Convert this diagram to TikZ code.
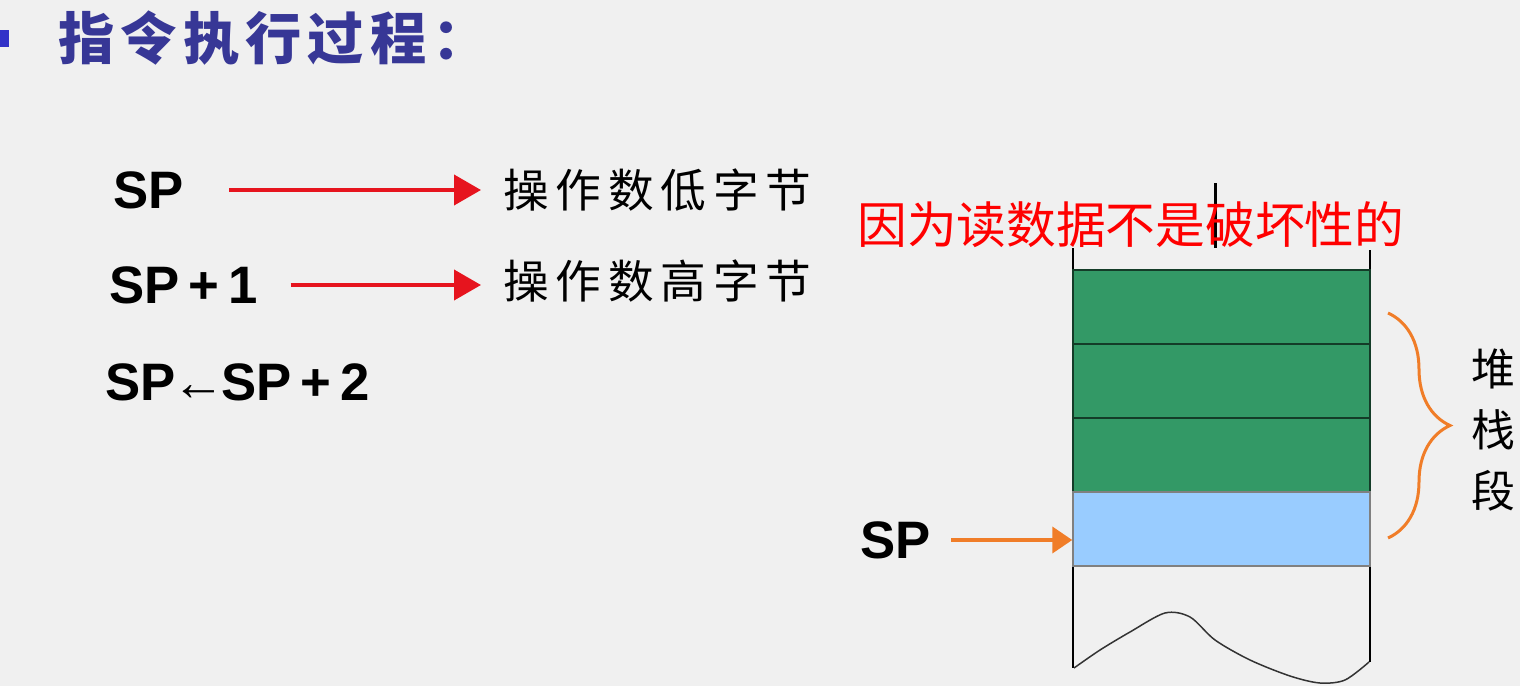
\documentclass[tikz,border=0pt]{standalone}
\usepackage{fontspec}
\setmainfont{Liberation Sans}
\newfontfamily\cjk{Noto Sans CJK SC}
\usepackage{tikz}
\usetikzlibrary{arrows.meta,positioning,decorations.pathreplacing}
\definecolor{bggray}{RGB}{240,240,240}
\definecolor{titleblue}{RGB}{55,55,150}
\definecolor{bulletblue}{RGB}{50,50,200}
\definecolor{stackgreen}{RGB}{51,153,102}
\definecolor{darkgreen}{RGB}{20,60,40}
\definecolor{cellblue}{RGB}{153,204,255}
\definecolor{arrowred}{RGB}{230,20,30}
\definecolor{braceorange}{RGB}{240,125,40}
\tikzset{every node/.append style={inner sep=0pt}}
\tikzset{reg/.style={font=\bfseries\fontsize{30}{34}\selectfont}}
\tikzset{bytetxt/.style={font=\cjk\addfontfeatures{LetterSpace=15}\fontsize{26}{30}\selectfont}}
\tikzset{redarr/.style={arrowred,line width=0.08cm,-{Triangle[length=0.54cm,width=0.6cm]}}}
\tikzset{orangearr/.style={braceorange,line width=0.08cm,-{Triangle[length=0.4cm,width=0.52cm]}}}
\tikzset{cell/.style={minimum width=5.94cm,minimum height=1.48cm,line width=0.03cm}}

\begin{document}
\begin{tikzpicture}[x=0.02cm,y=-0.02cm]
  \fill[bggray] (0,0) rectangle (1520,686);
  \useasboundingbox (0,0) rectangle (1520,686);
  % title
  \fill[bulletblue] (0,30) rectangle (9,47);
  \node[anchor=west,text=titleblue,font=\cjk\bfseries\addfontfeatures{LetterSpace=11}\fontsize{32}{36}\selectfont] (title) at (58,38) {指令执行过程：};
  % steps
  \node[reg,anchor=west] (sp) at (113,190) {SP};
  \node[reg,anchor=west] (sp1) at (109,285) {SP\,+\,1};
  \node[reg,anchor=west] (sp2) at (105,382) {SP\kern-2pt←\kern-2pt SP\,+\,2};
  \node[bytetxt,anchor=west] (lo) at (503,190) {操作数低字节};
  \node[bytetxt,anchor=west] (hi) at (503,281) {操作数高字节};
  \draw[redarr] ([xshift=0.9cm]sp.east) -- ([xshift=-0.44cm]lo.west);
  \draw[redarr] ([xshift=0.66cm]sp1.east) -- ([xshift=-0.44cm]hi.west|-sp1.east);
  % stack
  \draw[line width=0.04cm] (1073,248) -- (1073,668);
  \draw[line width=0.04cm] (1370,250) -- (1370,662);
  \draw[line width=0.06cm] (1215,183) -- (1215,248);
  \node[cell,fill=stackgreen,draw=darkgreen] (c1) at (1221.5,307) {};
  \node[cell,fill=stackgreen,draw=darkgreen] (c2) at (1221.5,381) {};
  \node[cell,fill=stackgreen,draw=darkgreen] (c3) at (1221.5,455) {};
  \node[cell,fill=cellblue,draw=gray] (c4) at (1221.5,529) {};
  \draw[line width=0.03cm,black!80] plot[smooth] coordinates {(1074,668) (1100,650) (1130,632) (1165,613) (1190,617) (1215,640) (1250,660) (1290,676) (1320,683) (1345,680) (1369,662)};
  \node[anchor=west,text=red,font=\cjk\fontsize{28.3}{32}\selectfont] (note) at (857,225) {因为读数据不是破坏性的};
  \node[reg,anchor=west] (spb) at (860,540) {SP};
  \draw[orangearr] ([xshift=0.4cm]spb.east) -- (c4.west|-spb.east);
  \draw[braceorange,line width=0.06cm,decorate,decoration={brace,amplitude=1.24cm}] (1388,313) -- (1388,538);
  \node[align=center,font=\cjk\fontsize{25}{35}\selectfont] (seg) at (1493,430) {堆\\栈\\段};
\end{tikzpicture}
\end{document}
